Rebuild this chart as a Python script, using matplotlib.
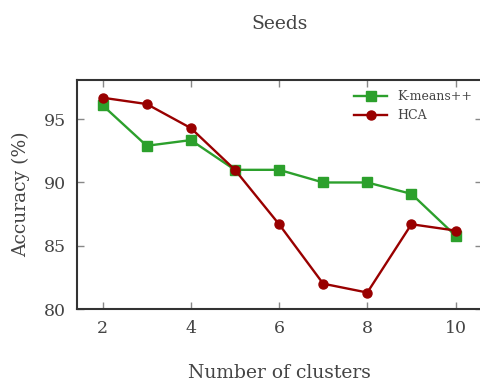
import matplotlib
matplotlib.use('Agg')
import matplotlib.pyplot as plt

# accuracy on the Seeds data set vs number of clusters
clusters = [2, 3, 4, 5, 6, 7, 8, 9, 10]
kmeans_acc = [96.1, 92.9, 93.35, 91.0, 91.0, 90.0, 90.0, 89.1, 85.8]
hca_acc = [96.7, 96.2, 94.3, 91.0, 86.7, 82.0, 81.3, 86.7, 86.2]
xticks = [2, 4, 6, 8, 10]
yticks = [80, 85, 90, 95]

plt.rcParams['font.family'] = ['DejaVu Serif']
txt = '#444444'

fig = plt.figure(figsize=(4.81, 3.85), dpi=100)
ax = fig.add_axes([77/481, (385-309)/385, 405/481, 229/385])

ax.plot(clusters, kmeans_acc, '-s', color='#2ca02c', lw=1.7, ms=6.5, label='K-means++')
ax.plot(clusters, hca_acc, '-o', color='#990000', lw=1.7, ms=6.5, label='HCA')

ax.set_xlim(1.42, 10.6)
ax.set_ylim(80, 98.1)
ax.set_xticks(xticks)
ax.set_yticks(yticks)
ax.tick_params(direction='in', top=True, right=True, length=5, width=1,
               color='#888888', labelcolor=txt, labelsize=12.5, pad=8)
for s in ax.spines.values():
    s.set_color('#333333')
    s.set_linewidth(1.5)

ax.set_xlabel('Number of clusters', fontsize=13.5, color=txt, labelpad=19)
ax.set_ylabel('Accuracy (%)', fontsize=13.5, color=txt, labelpad=10)
ax.set_title('Seeds', fontsize=13.5, color=txt, pad=37)

leg = ax.legend(loc='upper right', fontsize=9, frameon=False, handlelength=2.6,
                borderaxespad=0.4, bbox_to_anchor=(1.0, 1.0))
for t in leg.get_texts():
    t.set_color(txt)

fig.savefig('out.png', dpi=100)
